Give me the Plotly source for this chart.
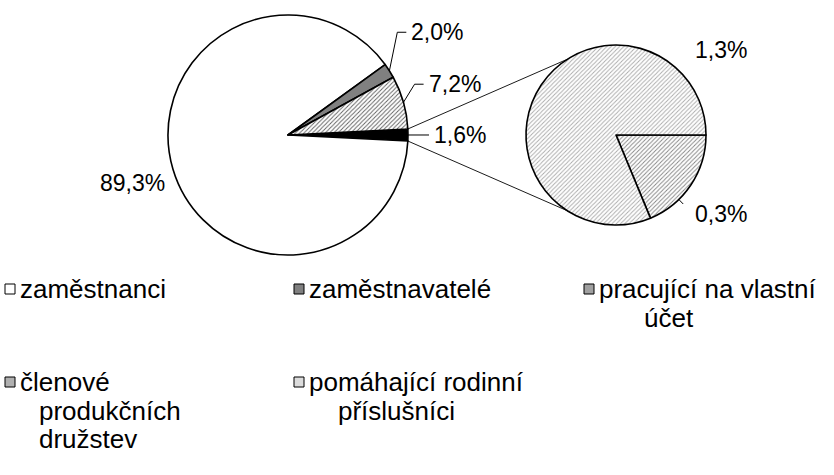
import math
import plotly.graph_objects as go

W, H = 834, 475

# ---------------- data ----------------
main_labels = ["ostatní", "zaměstnanci", "zaměstnavatelé", "pracující na vlastní účet"]
main_values = [1.6, 89.3, 2.0, 7.2]
main_text = ["1,6%", "89,3%", "2,0%", "7,2%"]

sec_labels = ["členové produkčních družstev", "pomáhající rodinní příslušníci"]
sec_values = [0.3, 1.3]
sec_text = ["0,3%", "1,3%"]

legend_lines = [
    ["zaměstnanci"],
    ["zaměstnavatelé"],
    ["pracující na vlastní", "účet"],
    ["členové", "produkčních", "družstev"],
    ["pomáhající rodinní", "příslušníci"],
]

# ---------------- style ----------------
FONT = "Liberation Sans, Arial, sans-serif"
LBL_SIZE = 23
LEG_SIZE = 26

main_colors = ["#000000", "#ffffff", "#808080", "#a8a8a8"]
main_pat = ["", "", "", "/"]
main_fg = ["#000000", "#000000", "#000000", "#5e5e5e"]
sec_colors = ["#bcbcbc", "#dcdcdc"]
sec_pat = ["/", "/"]
sec_fg = ["#848484", "#aaaaaa"]
legend_colors = ["#ffffff", "#808080", "#a0a0a0", "#b0b0b0", "#dcdcdc"]

MC = (288, 135)   # main pie centre (px)
MR = 120
SC = (616, 135)   # secondary pie centre (px)
SR = 90

# label placement: (radius factor, angle offset in deg from slice middle)
main_lbl = [(1.20, 0.0), (1.085, -5.2), (1.325, -7.9), (1.23, -4.3)]
main_leader = [True, False, True, True]
sec_lbl = [(1.22, 12.0), (1.275, 98.5)]


def paper(x, y):
    return x / W, 1 - y / H


def dom(c, r):
    return dict(x=[(c[0] - r) / W, (c[0] + r) / W],
                y=[1 - (c[1] + r) / H, 1 - (c[1] - r) / H])


def slice_angles(values, start):
    tot = sum(values)
    out = []
    a = start
    for v in values:
        span = 360.0 * v / tot
        out.append((a, a + span, a + span / 2))
        a += span
    return out


def pt(c, r, deg):
    t = math.radians(deg)
    return c[0] + r * math.cos(t), c[1] + r * math.sin(t)


fig = go.Figure()

half_black = 360.0 * main_values[0] / sum(main_values) / 2
fig.add_trace(go.Pie(
    labels=main_labels, values=main_values, sort=False, direction="clockwise",
    rotation=90 - half_black, textinfo="none", hoverinfo="label+percent",
    marker=dict(colors=main_colors, line=dict(color="#000000", width=1.6),
                pattern=dict(shape=main_pat, fgcolor=main_fg, size=3, solidity=0.3)),
    domain=dom(MC, MR), showlegend=False,
))
fig.add_trace(go.Pie(
    labels=sec_labels, values=sec_values, sort=False, direction="clockwise",
    rotation=90, textinfo="none", hoverinfo="label+percent",
    marker=dict(colors=sec_colors, line=dict(color="#000000", width=1.6),
                pattern=dict(shape=sec_pat, fgcolor=sec_fg, size=3, solidity=0.3)),
    domain=dom(SC, SR), showlegend=False,
))

shapes = []
annotations = []

# main pie labels
m_ang = slice_angles(main_values, -half_black)
for i, (a0, a1, am) in enumerate(m_ang):
    f, off = main_lbl[i]
    la = am + off
    lx, ly = pt(MC, f * MR, la)
    right = math.cos(math.radians(la)) >= 0
    annotations.append(dict(x=lx / W, y=1 - ly / H, xref="paper", yref="paper",
                            text=main_text[i], showarrow=False,
                            xanchor="left" if right else "right", yanchor="middle",
                            font=dict(family=FONT, size=LBL_SIZE, color="#000")))
    if main_leader[i]:
        ax, ay = pt(MC, MR, am)
        ex, ey = lx - 12, ly
        if abs(ey - ay) < 3:
            ey = ay
        path = "M {:.4f},{:.4f} L {:.4f},{:.4f} L {:.4f},{:.4f}".format(
            *paper(ax, ay), *paper(ex, ey), *paper(lx - 3, ey))
        shapes.append(dict(type="path", xref="paper", yref="paper", path=path,
                           line=dict(color="#000", width=1)))

# secondary pie labels
s_ang = slice_angles(sec_values, 0)
for i, (a0, a1, am) in enumerate(s_ang):
    f, off = sec_lbl[i]
    la = am + off
    lx, ly = pt(SC, f * SR, la)
    annotations.append(dict(x=lx / W, y=1 - ly / H, xref="paper", yref="paper",
                            text=sec_text[i], showarrow=False,
                            xanchor="left", yanchor="middle",
                            font=dict(family=FONT, size=LBL_SIZE, color="#000")))
# small leader for 0,3%
a = sec_lbl[0][1] + s_ang[0][2]
x0, y0 = pt(SC, SR * 1.005, a)
x1, y1 = pt(SC, SR * 1.07, a)
shapes.append(dict(type="line", xref="paper", yref="paper",
                   x0=x0 / W, y0=1 - y0 / H, x1=x1 / W, y1=1 - y1 / H,
                   line=dict(color="#000", width=1)))

# connector lines between pies (edges of the black "other" slice)
for e, sa in ((m_ang[0][0], -122.5), (m_ang[0][1], 122.5)):
    x0, y0 = pt(MC, MR, e)
    x1, y1 = pt(SC, SR, sa)
    shapes.append(dict(type="line", xref="paper", yref="paper",
                       x0=x0 / W, y0=1 - y0 / H, x1=x1 / W, y1=1 - y1 / H,
                       line=dict(color="#000", width=0.9)))

# custom legend
col_x = [5, 294, 584]
row_y = [289, 382]
line_h = 28.5
indent = [0, 0, 45, 19, 29]
for k, lines in enumerate(legend_lines):
    cx = col_x[k % 3]
    cy = row_y[k // 3]
    sx0, sy0 = paper(cx, cy - 5)
    sx1, sy1 = paper(cx + 10, cy + 5)
    shapes.append(dict(type="rect", xref="paper", yref="paper",
                       x0=sx0, y0=sy0, x1=sx1, y1=sy1,
                       fillcolor=legend_colors[k], line=dict(color="#000", width=1)))
    for j, t in enumerate(lines):
        tx = cx + 13 + (indent[k] if j > 0 else 0)
        ty = cy + j * line_h
        annotations.append(dict(x=tx / W, y=1 - ty / H, xref="paper", yref="paper",
                                text=t, showarrow=False, xanchor="left", yanchor="middle",
                                font=dict(family=FONT, size=LEG_SIZE, color="#000")))

fig.update_layout(
    width=W, height=H, margin=dict(l=0, r=0, t=0, b=0),
    paper_bgcolor="#ffffff", plot_bgcolor="#ffffff",
    shapes=shapes, annotations=annotations,
)

fig.write_html("out.html", config={"displayModeBar": False},
               post_script="document.body.style.margin='0';document.body.style.overflow='hidden';")
